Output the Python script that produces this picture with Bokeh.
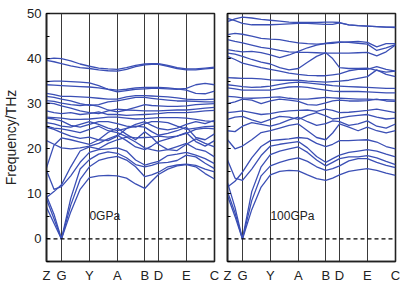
from bokeh.plotting import figure
from bokeh.layouts import row
from bokeh.models import FixedTicker, SingleIntervalTicker, Range1d, Span, Label
from bokeh.embed import file_html
from bokeh.resources import INLINE

# k-path sample positions (path length units), high-symmetry points and labels
K = [0, 7.5, 15, 24.3, 33.7, 43, 52.3, 61.7, 71, 80.2, 89.3, 98.5, 105.4, 112.3,
     121.6, 130.9, 140.2, 149.6, 159, 168.4]
NODE_K = [0, 15, 43, 71, 98.5, 112.3, 140.2, 168.4]
NODE_LABELS = ["Z", "G", "Y", "A", "B", "D", "E", "C"]
Y_MIN, Y_MAX = -5, 50
Y_TICKS = [0, 10, 20, 30, 40, 50]
ZERO_LINE = 0

# ---------------- 0 GPa bands (THz) ----------------
p0_b01 = [7.0, 3.5, 0, 6.0, 11.0, 13.6, 14.0, 14.1, 14.0, 13.5, 12.2, 11.2, 12.8, 14.3, 15.5, 16.2, 16.5, 16.0, 14.5, 13.3]
p0_b02 = [8.8, 4.5, 0, 7.5, 13.2, 16.0, 17.4, 18.0, 18.3, 17.5, 16.0, 13.8, 14.2, 14.8, 16.0, 16.4, 16.6, 16.3, 15.5, 14.9]
p0_b03 = [9.6, 5.5, 0, 9.0, 15.5, 17.6, 18.8, 19.3, 19.0, 18.0, 16.5, 16.0, 16.3, 16.8, 17.0, 17.4, 18.6, 18.2, 16.8, 15.6]
p0_b04 = [15.2, 11.0, 11.6, 14.0, 17.0, 19.2, 19.8, 20.0, 20.2, 19.5, 17.5, 16.4, 16.8, 17.2, 18.5, 18.8, 19.2, 18.6, 17.8, 16.7]
p0_b05 = [9.2, 10.5, 12.0, 16.0, 19.5, 20.4, 20.0, 21.2, 22.0, 22.6, 21.5, 20.2, 19.8, 19.5, 19.8, 20.5, 21.2, 20.0, 19.5, 18.2]
p0_b06 = [15.8, 20.8, 22.4, 22.0, 21.5, 21.0, 22.0, 23.6, 24.6, 23.2, 22.0, 23.8, 22.6, 21.0, 19.8, 19.6, 21.0, 22.2, 21.2, 20.4]
p0_b07 = [21.8, 21.0, 20.2, 20.0, 20.2, 20.6, 21.2, 22.2, 23.0, 21.8, 20.4, 19.8, 20.6, 21.6, 22.2, 22.8, 23.6, 21.6, 20.6, 21.8]
p0_b08 = [24.8, 24.3, 23.6, 22.8, 22.3, 22.6, 22.0, 21.8, 22.8, 24.5, 25.0, 24.8, 23.8, 23.0, 23.4, 24.0, 24.8, 22.5, 22.0, 23.3]
p0_b09 = [25.0, 24.6, 24.4, 24.0, 23.6, 24.3, 25.0, 24.0, 23.6, 22.7, 22.4, 22.5, 22.6, 22.8, 22.6, 22.8, 23.4, 24.3, 24.6, 24.4]
p0_b10 = [25.8, 25.5, 25.0, 24.8, 25.4, 26.0, 25.4, 24.6, 24.0, 24.5, 25.4, 26.0, 25.2, 24.5, 24.2, 24.6, 25.4, 26.0, 25.6, 26.3]
p0_b11 = [26.8, 26.6, 26.2, 25.2, 24.8, 25.4, 26.0, 26.0, 25.6, 25.0, 24.8, 25.6, 26.0, 26.0, 25.8, 25.0, 24.3, 24.6, 24.9, 25.0]
p0_b12 = [27.0, 26.9, 26.8, 26.5, 26.5, 26.6, 26.8, 27.0, 27.0, 26.8, 26.6, 26.7, 26.8, 26.9, 26.9, 26.9, 26.8, 26.5, 26.2, 26.0]
p0_b13 = [28.4, 28.0, 27.8, 28.0, 27.6, 27.8, 28.2, 27.6, 27.6, 27.4, 27.5, 27.6, 27.7, 27.8, 28.0, 28.0, 28.0, 28.2, 28.4, 28.5]
p0_b14 = [30.2, 30.0, 29.5, 29.0, 28.4, 28.0, 27.8, 28.4, 28.8, 28.6, 28.5, 28.4, 28.4, 28.4, 28.5, 28.6, 28.6, 28.8, 29.0, 29.2]
p0_b15 = [30.7, 30.5, 30.1, 29.8, 29.6, 29.8, 29.4, 28.6, 28.2, 28.6, 29.2, 29.8, 29.6, 29.5, 29.4, 29.4, 29.5, 29.8, 29.9, 30.0]
p0_b16 = [31.6, 31.4, 31.0, 30.6, 30.0, 29.6, 29.8, 30.4, 30.6, 31.0, 31.4, 31.4, 31.2, 31.0, 30.8, 30.6, 30.6, 30.5, 30.4, 30.4]
p0_b17 = [32.3, 32.0, 31.6, 31.6, 31.5, 31.4, 31.2, 31.0, 31.0, 31.5, 31.8, 31.8, 31.7, 31.6, 31.5, 31.3, 31.0, 30.9, 30.9, 31.0]
p0_b18 = [34.2, 34.1, 34.0, 33.9, 33.8, 33.7, 33.5, 33.2, 33.0, 33.2, 33.5, 33.6, 33.6, 33.6, 33.5, 33.3, 33.0, 32.3, 32.2, 32.8]
p0_b19 = [34.9, 35.0, 35.0, 34.9, 34.8, 34.6, 34.0, 33.2, 32.6, 32.9, 33.2, 33.3, 33.4, 33.4, 33.3, 33.2, 33.4, 34.2, 34.5, 34.2]
p0_b20 = [39.6, 39.3, 38.9, 38.4, 38.0, 37.8, 37.5, 37.3, 37.2, 37.6, 38.2, 38.6, 38.7, 38.7, 38.3, 37.8, 37.5, 37.5, 37.7, 37.9]
p0_b21 = [39.9, 40.1, 40.0, 39.5, 38.8, 38.3, 37.9, 37.7, 37.6, 38.0, 38.5, 38.8, 38.9, 38.9, 38.5, 38.0, 37.7, 37.7, 37.9, 38.1]

# ---------------- 100 GPa bands (THz) ----------------
p1_b01 = [9.6, 5.0, 0, 6.5, 11.5, 14.2, 15.0, 15.2, 15.1, 14.2, 13.4, 13.0, 13.5, 14.2, 15.0, 15.3, 15.6, 15.2, 14.6, 14.1]
p1_b02 = [10.5, 5.8, 0, 8.5, 14.0, 16.2, 17.0, 17.6, 18.0, 17.2, 16.0, 15.2, 15.6, 16.2, 17.3, 17.8, 17.8, 17.0, 16.3, 15.8]
p1_b03 = [12.5, 7.0, 0, 10.5, 16.0, 18.7, 19.5, 20.0, 20.4, 19.2, 17.5, 16.2, 17.0, 17.8, 18.2, 18.2, 18.5, 18.0, 17.2, 16.5]
p1_b04 = [17.5, 13.5, 13.0, 15.5, 18.5, 20.6, 21.0, 21.3, 21.6, 20.2, 18.3, 17.0, 17.8, 18.6, 19.2, 19.5, 19.8, 19.5, 18.8, 18.2]
p1_b05 = [11.5, 12.8, 14.8, 18.0, 20.5, 21.8, 22.0, 22.2, 22.5, 22.3, 21.2, 20.5, 21.0, 21.8, 21.8, 21.9, 22.0, 21.5, 20.5, 20.0]
p1_b06 = [22.0, 20.0, 20.6, 22.0, 23.6, 24.0, 24.6, 25.2, 25.5, 24.0, 22.5, 22.0, 23.5, 25.5, 24.8, 24.0, 24.8, 24.0, 23.5, 24.0]
p1_b07 = [24.0, 23.8, 25.0, 25.8, 25.4, 25.0, 25.6, 26.4, 27.0, 26.0, 25.2, 25.6, 26.2, 26.0, 25.2, 25.5, 26.2, 25.0, 24.6, 25.5]
p1_b08 = [26.5, 27.0, 27.2, 26.4, 25.8, 26.5, 27.2, 27.0, 26.5, 27.4, 28.0, 27.3, 26.6, 26.8, 27.2, 27.4, 27.6, 27.0, 26.6, 26.8]
p1_b09 = [28.0, 28.2, 28.4, 28.0, 27.6, 27.8, 28.2, 28.4, 28.5, 28.6, 28.3, 28.8, 28.5, 28.0, 28.1, 28.3, 28.5, 28.8, 28.4, 28.0]
p1_b10 = [30.0, 30.4, 31.0, 30.8, 30.0, 30.6, 31.0, 30.8, 30.5, 29.8, 29.7, 30.2, 30.6, 30.8, 30.6, 30.6, 30.7, 31.0, 30.6, 30.5]
p1_b11 = [31.6, 31.5, 31.3, 31.2, 31.3, 31.4, 31.5, 31.2, 31.0, 31.0, 31.2, 31.4, 31.3, 31.2, 31.1, 31.0, 31.0, 30.9, 30.9, 30.8]
p1_b12 = [33.5, 33.3, 33.0, 33.0, 33.0, 33.0, 33.4, 33.7, 33.8, 33.6, 33.3, 33.0, 32.8, 32.7, 32.7, 32.7, 32.6, 32.5, 32.4, 32.4]
p1_b13 = [34.2, 34.0, 33.8, 33.6, 33.7, 33.9, 34.3, 34.6, 34.8, 34.6, 34.4, 34.2, 34.0, 33.9, 33.8, 33.7, 33.6, 33.5, 33.4, 33.4]
p1_b14 = [35.8, 35.7, 35.6, 35.6, 35.5, 35.3, 35.2, 35.2, 35.2, 35.0, 34.9, 34.8, 34.9, 35.0, 35.2, 35.6, 36.0, 37.5, 36.5, 36.0]
p1_b15 = [40.5, 39.8, 39.0, 38.5, 38.0, 37.6, 37.2, 36.8, 36.5, 36.3, 36.2, 36.2, 36.4, 36.6, 37.3, 37.6, 37.6, 38.2, 37.6, 37.2]
p1_b16 = [41.2, 41.0, 40.5, 39.8, 39.2, 38.8, 38.0, 37.5, 37.8, 39.2, 40.5, 41.3, 40.0, 38.0, 37.8, 37.8, 37.9, 37.4, 37.0, 37.2]
p1_b17 = [42.0, 41.7, 41.5, 41.6, 41.3, 40.8, 40.2, 40.8, 41.6, 42.4, 43.0, 43.4, 43.6, 43.7, 43.6, 43.4, 43.2, 41.8, 42.4, 43.1]
p1_b18 = [44.2, 43.8, 43.5, 43.0, 42.5, 42.2, 41.8, 41.5, 41.4, 41.4, 41.3, 41.2, 41.2, 41.2, 41.2, 41.3, 41.4, 40.6, 41.5, 43.0]
p1_b19 = [45.3, 45.6, 45.4, 45.0, 44.5, 44.3, 44.2, 43.8, 43.5, 43.3, 43.2, 43.3, 43.4, 43.6, 43.7, 43.8, 43.6, 42.6, 43.3, 43.3]
p1_b20 = [48.2, 48.8, 49.2, 49.0, 48.7, 48.5, 48.3, 48.1, 48.0, 48.0, 48.0, 48.1, 48.1, 48.0, 47.5, 47.3, 47.2, 47.1, 47.0, 47.0]
p1_b21 = [48.9, 48.4, 47.8, 47.5, 47.5, 47.5, 47.6, 47.7, 47.8, 47.8, 47.7, 47.6, 47.6, 47.9, 47.5, 47.3, 47.2, 47.1, 47.0, 46.9]

BANDS_0GPA = [p0_b01, p0_b02, p0_b03, p0_b04, p0_b05, p0_b06, p0_b07, p0_b08, p0_b09, p0_b10,
              p0_b11, p0_b12, p0_b13, p0_b14, p0_b15, p0_b16, p0_b17, p0_b18, p0_b19, p0_b20, p0_b21]
BANDS_100GPA = [p1_b01, p1_b02, p1_b03, p1_b04, p1_b05, p1_b06, p1_b07, p1_b08, p1_b09, p1_b10,
                p1_b11, p1_b12, p1_b13, p1_b14, p1_b15, p1_b16, p1_b17, p1_b18, p1_b19, p1_b20, p1_b21]

LINE_COLOR = "#3b4fb5"
FONT = "Liberation Sans"
TEXT_COLOR = "#222222"


def make_panel(bands, pressure_text, first):
    p = figure(frame_width=168, frame_height=248,
               x_range=Range1d(K[0], K[-1]), y_range=Range1d(Y_MIN, Y_MAX),
               output_backend="svg", toolbar_location=None,
               min_border_top=13, min_border_bottom=0,
               min_border_left=0 if first else 7,
               min_border_right=6 if first else 10,
               background_fill_color="white", border_fill_color="white")
    p.outline_line_color = "#222222"
    p.outline_line_width = 1.6
    p.outline_line_alpha = 1.0

    for b in bands:
        p.line(K, b, line_color=LINE_COLOR, line_width=1.3, line_join="round")

    p.add_layout(Span(location=ZERO_LINE, dimension="width", line_color="black",
                      line_dash="4 3", line_width=1.2))

    # x axis: high-symmetry points
    p.xaxis.ticker = FixedTicker(ticks=NODE_K)
    p.xaxis.major_label_overrides = {k: lab for k, lab in zip(NODE_K, NODE_LABELS)}
    p.xaxis.major_tick_in = 0
    p.xaxis.major_tick_out = 0
    p.xaxis.minor_tick_in = 0
    p.xaxis.minor_tick_out = 0
    p.xaxis.major_label_standoff = 6
    p.xaxis.major_label_text_font = FONT
    p.xaxis.major_label_text_font_size = "13px"
    p.xaxis.major_label_text_color = TEXT_COLOR
    p.xaxis.axis_line_color = "#222222"
    p.xaxis.axis_line_width = 1.6

    p.xgrid.ticker = FixedTicker(ticks=NODE_K)
    p.xgrid.grid_line_color = "#3a3a3a"
    p.xgrid.grid_line_width = 1
    p.ygrid.grid_line_color = None

    # y axis
    p.yaxis.ticker = SingleIntervalTicker(interval=10, num_minor_ticks=2)
    p.yaxis.major_tick_in = 3
    p.yaxis.major_tick_out = 0
    p.yaxis.minor_tick_in = 3
    p.yaxis.minor_tick_out = 0
    p.yaxis.axis_line_color = "#222222"
    p.yaxis.axis_line_width = 1.6
    if first:
        p.yaxis.axis_label = "Frequency/THz"
        p.yaxis.axis_label_text_font = FONT
        p.yaxis.axis_label_text_font_size = "14px"
        p.yaxis.axis_label_text_font_style = "normal"
        p.yaxis.axis_label_text_color = TEXT_COLOR
        p.yaxis.axis_label_standoff = 5
        p.yaxis.major_label_standoff = 5
        p.yaxis.major_label_text_font = FONT
        p.yaxis.major_label_text_font_size = "13px"
        p.yaxis.major_label_text_color = TEXT_COLOR
    else:
        p.yaxis.major_label_overrides = {t: "" for t in Y_TICKS}
        p.yaxis.major_label_standoff = 0

    p.add_layout(Label(x=NODE_K[2], y=5, text=pressure_text, text_font=FONT,
                       text_font_size="12px", text_color=TEXT_COLOR,
                       text_baseline="middle", text_align="left"))
    return p


left = make_panel(BANDS_0GPA, "0GPa", True)
right = make_panel(BANDS_100GPA, "100GPa", False)
layout = row(left, right)

open("out.html", "w").write(file_html(layout, INLINE))
